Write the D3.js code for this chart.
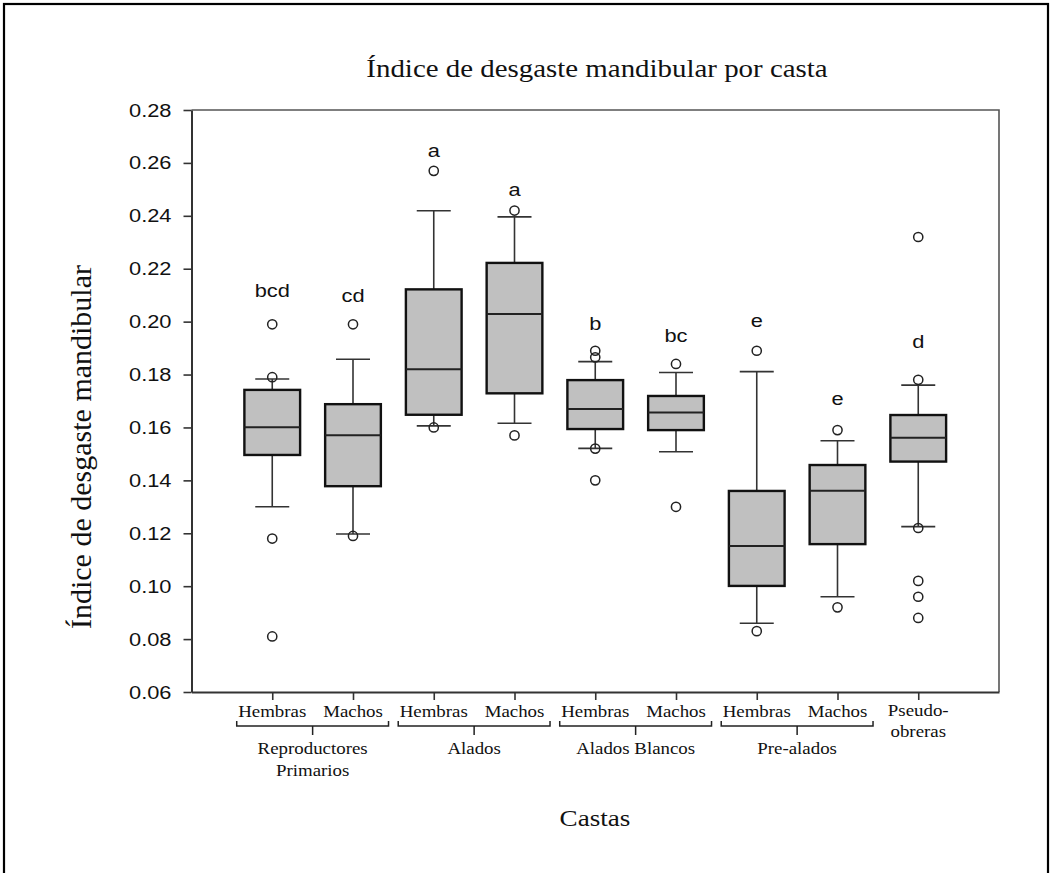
<!DOCTYPE html>
<html>
<head>
<meta charset="utf-8">
<script src="https://cdn.jsdelivr.net/npm/d3@7"></script>
<style>
  body { margin: 0; background: #fff; }
  svg { display: block; }
</style>
</head>
<body>
<div id="chart"></div>
<script>
// data
var cats = ["Hembras", "Machos", "Hembras", "Machos", "Hembras", "Machos", "Hembras", "Machos", "Pseudo-|obreras"];
var groups = [["Reproductores", "Primarios"], ["Alados"], ["Alados Blancos"], ["Pre-alados"]];
var q1 =     [0.1496, 0.1378, 0.1648, 0.1729, 0.1594, 0.1590, 0.1001, 0.1159, 0.1471];
var med =    [0.1601, 0.1571, 0.1820, 0.2029, 0.1670, 0.1657, 0.1152, 0.1361, 0.1561];
var q3 =     [0.1742, 0.1688, 0.2122, 0.2222, 0.1779, 0.1719, 0.1360, 0.1458, 0.1647];
var whiskLo = [0.1300, 0.1197, 0.1606, 0.1616, 0.1521, 0.1508, 0.0860, 0.0960, 0.1225];
var whiskHi = [0.1783, 0.1858, 0.2419, 0.2396, 0.1849, 0.1808, 0.1811, 0.1550, 0.1760];
var outliers = [
  [0.199, 0.179, 0.118, 0.081],
  [0.199, 0.119],
  [0.257, 0.160],
  [0.242, 0.157],
  [0.189, 0.1865, 0.152, 0.140],
  [0.184, 0.130],
  [0.189, 0.083],
  [0.159, 0.092],
  [0.232, 0.178, 0.122, 0.102, 0.096, 0.088]
];
var letters = ["bcd", "cd", "a", "a", "b", "bc", "e", "e", "d"];
var letterVal = [0.2094, 0.2075, 0.2622, 0.2475, 0.1968, 0.1924, 0.1981, 0.1685, 0.1899];
var yTicks = [0.06, 0.08, 0.10, 0.12, 0.14, 0.16, 0.18, 0.20, 0.22, 0.24, 0.26, 0.28];

var W = 1053, H = 873;
var plotL = 191.5, plotR = 999, plotT = 110, plotB = 692;
var sx = 1.18; // text in the figure is stretched horizontally

var svg = d3.select("#chart").append("svg")
    .attr("width", W)
    .attr("height", H);

// outer frame
svg.append("rect")
    .attr("x", 4).attr("y", 4)
    .attr("width", 1044).attr("height", 920)
    .attr("fill", "none")
    .attr("stroke", "#000")
    .attr("stroke-width", 2.2);

var x = d3.scaleLinear().domain([0, cats.length + 1]).range([plotL, plotR]);
var y = d3.scaleLinear().domain([0.06, 0.28]).range([plotB, plotT]);
var unit = x(1) - x(0);
var boxW = unit * 0.69, capW = 34;

function stretchedText(g, tx, ty, txt, size, family, anchor) {
  return g.append("text")
      .attr("transform", "translate(" + tx + "," + ty + ") scale(" + sx + ",1)")
      .attr("text-anchor", anchor || "middle")
      .style("font-family", family)
      .style("font-size", size + "px")
      .attr("fill", "#111")
      .text(txt);
}
var serif = "'Liberation Serif', 'Times New Roman', serif";
var sans = "'Liberation Sans', Arial, sans-serif";

// top and right frame of the plot
svg.append("path")
    .attr("d", "M" + plotL + "," + plotT + "H" + plotR + "V" + plotB)
    .attr("fill", "none")
    .attr("stroke", "#555")
    .attr("stroke-width", 1.6);

// y axis
var yAxis = svg.append("g")
    .attr("transform", "translate(" + plotL + ",0)")
    .call(d3.axisLeft(y).tickValues(yTicks).tickSize(8).tickFormat("").tickSizeOuter(0));
yAxis.select(".domain").attr("stroke", "#333").attr("stroke-width", 2);
yAxis.selectAll(".tick line").attr("stroke", "#333").attr("stroke-width", 1.6);
yTicks.forEach(function(t) {
  stretchedText(svg, plotL - 20, y(t) + 6.5, d3.format(".2f")(t), 18.5, sans, "end");
});

// x axis
var xAxis = svg.append("g")
    .attr("transform", "translate(0," + plotB + ")")
    .call(d3.axisBottom(x).tickValues(d3.range(1, cats.length + 1)).tickSize(8).tickFormat("").tickSizeOuter(0));
xAxis.select(".domain").attr("stroke", "#333").attr("stroke-width", 2);
xAxis.selectAll(".tick line").attr("stroke", "#333").attr("stroke-width", 1.6);

// category labels
cats.forEach(function(c, i) {
  var parts = c.split("|");
  if (parts.length === 1) {
    stretchedText(svg, x(i + 1), 717, parts[0], 16, serif);
  } else {
    stretchedText(svg, x(i + 1), 716, parts[0], 16, serif);
    stretchedText(svg, x(i + 1), 737, parts[1], 16, serif);
  }
});

// group brackets
groups.forEach(function(g, i) {
  var cx = (x(2 * i + 1) + x(2 * i + 2)) / 2;
  var half = unit * 0.94;
  svg.append("path")
      .attr("d", "M" + (cx - half) + ",721V726H" + (cx + half) + "V721M" + cx + ",726V735")
      .attr("fill", "none")
      .attr("stroke", "#222")
      .attr("stroke-width", 1.5);
  g.forEach(function(line, k) {
    stretchedText(svg, cx, 754 + k * 22, line, 16, serif);
  });
});

// boxes
var boxes = svg.append("g");
cats.forEach(function(c, i) {
  var cx = x(i + 1);
  var b = boxes.append("g");
  b.append("line")
      .attr("x1", cx).attr("x2", cx)
      .attr("y1", y(whiskHi[i])).attr("y2", y(q3[i]))
      .attr("stroke", "#333").attr("stroke-width", 1.6);
  b.append("line")
      .attr("x1", cx).attr("x2", cx)
      .attr("y1", y(q1[i])).attr("y2", y(whiskLo[i]))
      .attr("stroke", "#333").attr("stroke-width", 1.6);
  [whiskHi[i], whiskLo[i]].forEach(function(v) {
    b.append("line")
        .attr("x1", cx - capW / 2).attr("x2", cx + capW / 2)
        .attr("y1", y(v)).attr("y2", y(v))
        .attr("stroke", "#333").attr("stroke-width", 1.6);
  });
  b.append("rect")
      .attr("x", cx - boxW / 2)
      .attr("y", y(q3[i]))
      .attr("width", boxW)
      .attr("height", y(q1[i]) - y(q3[i]))
      .attr("fill", "#c0c0c0")
      .attr("stroke", "#111")
      .attr("stroke-width", 2.4);
  b.append("line")
      .attr("x1", cx - boxW / 2).attr("x2", cx + boxW / 2)
      .attr("y1", y(med[i])).attr("y2", y(med[i]))
      .attr("stroke", "#222").attr("stroke-width", 2);
  b.selectAll("circle")
      .data(outliers[i])
      .enter().append("circle")
        .attr("cx", cx)
        .attr("cy", function(d) { return y(d); })
        .attr("r", 4.6)
        .attr("fill", "none")
        .attr("stroke", "#222")
        .attr("stroke-width", 1.5);
  stretchedText(svg, cx, y(letterVal[i]), letters[i], 18.5, sans);
});

// titles
stretchedText(svg, 597, 77, "Índice de desgaste mandibular por casta", 24.5, serif);
stretchedText(svg, 595, 826, "Castas", 23, serif);
svg.append("text")
    .attr("transform", "translate(91,447) rotate(-90)")
    .attr("text-anchor", "middle")
    .style("font-family", serif)
    .style("font-size", "30px")
    .attr("fill", "#111")
    .text("Índice de desgaste mandibular");
</script>
</body>
</html>
